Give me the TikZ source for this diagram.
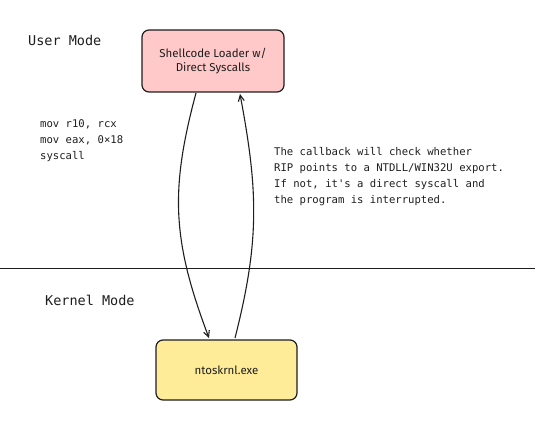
\documentclass[tikz,border=0pt]{standalone}
\usepackage{fontspec}
\setmainfont{DejaVu Sans}
\newfontfamily\monofont{DejaVu Sans Mono}
\newfontfamily\handfont{Fira Sans}
\usetikzlibrary{arrows.meta}
\definecolor{pinkfill}{HTML}{FFC9C9}
\definecolor{yellowfill}{HTML}{FFEC99}
\definecolor{ink}{HTML}{1E1E1E}
\begin{document}
\begin{tikzpicture}[x=1pt,y=-1pt,
  boxstyle/.style={draw=ink, line width=1.2pt, rounded corners=7pt, inner sep=0pt},
  modelabel/.style={font=\monofont\fontsize{13.5}{16}\selectfont, text=ink, anchor=west, inner sep=0pt},
  codetext/.style={font=\monofont\fontsize{10.6}{16}\selectfont, text=ink, align=left, anchor=north west, inner sep=0pt},
  handtext/.style={font=\handfont\fontsize{11.5}{14}\selectfont, text=ink, align=center},
  flow/.style={draw=ink, line width=1.1pt, -{Straight Barb[length=6pt,width=6pt]}}
]
\useasboundingbox (0,0) rectangle (556,427);
\node[modelabel] (user) at (28,40) {User Mode};
\node[modelabel] (kernel) at (45,300) {Kernel Mode};
\node[boxstyle, fill=pinkfill, minimum width=142pt, minimum height=62pt] (loader) at (213,61) {};
\node[handtext] (loadertxt) at (213,61) {Shellcode Loader w/\\Direct Syscalls};
\node[boxstyle, fill=yellowfill, minimum width=141pt, minimum height=60pt] (nt) at (226.5,370) {};
\node[handtext] (nttxt) at (226.5,370) {ntoskrnl.exe};
\node[codetext] (code) at (40,119) {mov r10, rcx\\mov eax, 0×18\\syscall};
\node[codetext] (note) at (274,147) {The callback will check whether\\RIP points to a NTDLL/WIN32U export.\\If not, it's a direct syscall and\\the program is interrupted.};
\coordinate (lineL) at (0,268);
\coordinate (lineR) at (535,268);
\draw[ink, line width=0.9pt] (lineL) -- (lineR);
\coordinate (d1) at (196,93);
\coordinate (d2) at (209,338);
\coordinate (u1) at (235,338);
\coordinate (u2) at (240,94);
\draw[flow] (d1) .. controls (170,190) and (172,240) .. (d2);
\draw[flow] (u1) .. controls (260,240) and (258,190) .. (u2);
\end{tikzpicture}
\end{document}
